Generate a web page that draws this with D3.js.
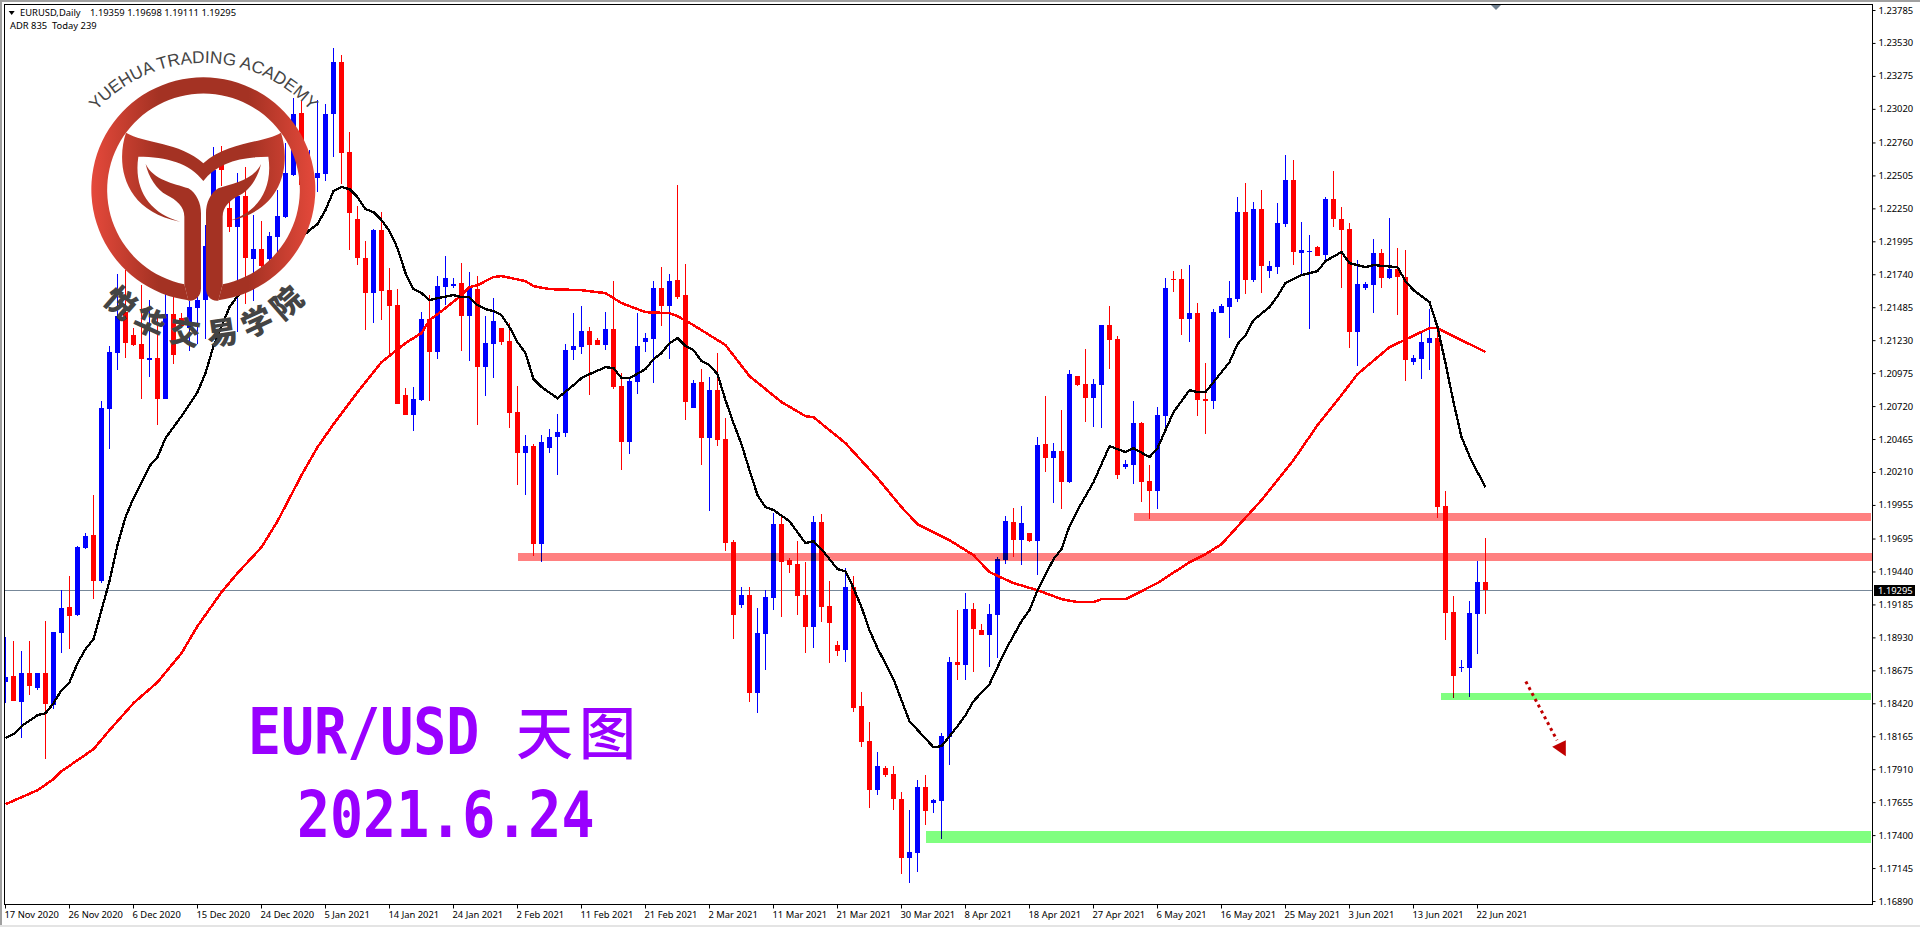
<!DOCTYPE html>
<html><head><meta charset="utf-8">
<script src="https://cdnjs.cloudflare.com/ajax/libs/d3/7.8.5/d3.min.js"></script>
<style>html,body{margin:0;padding:0;background:#fff;overflow:hidden}svg{display:block}</style>
</head><body><svg id="c" width="1920" height="927"></svg>
<script>
const opens=[1.18583,1.18630,1.18429,1.18653,1.18537,1.18653,1.18405,1.18963,1.19164,1.19102,
1.19620,1.19721,1.19365,1.20696,1.21130,1.21447,1.21269,1.21199,1.21076,1.21091,
1.20774,1.21432,1.21401,1.21323,1.21478,1.21540,1.22043,1.22585,1.22252,1.22105,
1.22345,1.21857,1.21935,1.21857,1.22028,1.22182,1.22507,1.22987,1.22314,1.22484,
1.22515,1.22980,1.23382,1.22686,1.22167,1.21865,1.21594,1.22082,1.21617,1.21501,
1.20805,1.20650,1.20766,1.21393,1.21138,1.21641,1.21648,1.21672,1.21416,1.21625,
1.21021,1.21199,1.21323,1.21223,1.20673,1.20356,1.20410,1.19651,1.20394,1.20480,
1.20511,1.21153,1.21176,1.21300,1.21230,1.21192,1.21316,1.20874,1.20441,1.20905,
1.21215,1.21238,1.21633,1.21494,1.21695,1.21579,1.20704,1.20905,1.20472,1.20843,
1.20464,1.19667,1.19179,1.19257,1.18498,1.18955,1.19233,1.19806,1.19528,1.19497,
1.19257,1.19009,1.19822,1.19172,1.18870,1.18831,1.19319,1.18398,1.18127,1.17747,
1.17918,1.17871,1.17678,1.17221,1.17260,1.17771,1.17647,1.17662,1.18158,1.18738,
1.18715,1.19148,1.18986,1.18947,1.19102,1.19528,1.19822,1.19682,1.19737,1.19675,
1.20425,1.20317,1.20371,1.20131,1.20952,1.20890,1.20781,1.20882,1.21346,1.21238,
1.20247,1.20263,1.20588,1.20139,1.20062,1.20642,1.21703,1.21703,1.21393,1.21439,
1.20774,1.20758,1.21439,1.21486,1.21548,1.22221,1.21695,1.22244,1.21764,1.21795,
1.22128,1.22469,1.21904,1.21912,1.21950,1.21888,1.22322,1.22167,1.22090,1.21292,
1.21633,1.21656,1.21904,1.21710,1.21780,1.21718,1.21060,1.21083,1.21207,1.21246,
1.19946,1.19125,1.18692,1.18692,1.19110,1.19359];
const highs=[1.18932,1.18901,1.18823,1.18901,1.18653,1.19055,1.18970,1.19295,1.19404,1.19636,
1.19737,1.20031,1.20758,1.21184,1.21741,1.21772,1.21323,1.21656,1.21540,1.21463,
1.21617,1.21571,1.21439,1.21532,1.21571,1.22120,1.22724,1.22732,1.22314,1.22523,
1.22569,1.22198,1.22151,1.22066,1.22391,1.22755,1.23103,1.23088,1.22701,1.23088,
1.23057,1.23490,1.23436,1.22840,1.22268,1.21997,1.22090,1.22221,1.21788,1.21625,
1.20859,1.20867,1.21447,1.21579,1.21726,1.21881,1.21710,1.21826,1.21757,1.21726,
1.21416,1.21555,1.21323,1.21362,1.20874,1.20495,1.20425,1.20495,1.20542,1.20658,
1.21199,1.21439,1.21494,1.21331,1.21246,1.21447,1.21687,1.20975,1.20944,1.21439,
1.21285,1.21687,1.21795,1.21741,1.22430,1.21819,1.20921,1.21006,1.20944,1.21130,
1.20627,1.19682,1.19319,1.19319,1.19156,1.19295,1.19891,1.19868,1.19543,1.19675,
1.19512,1.19868,1.19884,1.19365,1.18901,1.19466,1.19404,1.18506,1.18274,1.18042,
1.17933,1.17933,1.17732,1.17593,1.17825,1.17863,1.17678,1.18189,1.18777,1.19141,
1.19272,1.19195,1.19032,1.19187,1.19551,1.19868,1.19930,1.19946,1.19737,1.20480,
1.20797,1.20433,1.20689,1.20998,1.20952,1.21161,1.20929,1.21346,1.21494,1.21261,
1.20302,1.20758,1.20596,1.20263,1.20712,1.21710,1.21764,1.21780,1.21811,1.21517,
1.21052,1.21470,1.21509,1.21687,1.22337,1.22446,1.22299,1.22391,1.21842,1.22291,
1.22662,1.22624,1.22144,1.22043,1.21958,1.22337,1.22538,1.22260,1.22136,1.21850,
1.21679,1.22012,1.21935,1.22175,1.21942,1.21927,1.21114,1.21292,1.21470,1.21346,
1.20062,1.19249,1.18754,1.19210,1.19520,1.19698];
const lows=[1.18421,1.18436,1.18150,1.18483,1.18521,1.17987,1.18374,1.18808,1.18839,1.19094,
1.19613,1.19226,1.19350,1.20387,1.20998,1.21091,1.21184,1.20774,1.20944,1.20572,
1.20774,1.21045,1.21323,1.21145,1.21199,1.21238,1.21888,1.22422,1.22066,1.21292,
1.21509,1.21532,1.21788,1.21834,1.21881,1.22175,1.22500,1.22159,1.22159,1.22376,
1.22461,1.22647,1.22438,1.21927,1.21811,1.21308,1.21362,1.21385,1.21114,1.20735,
1.20650,1.20526,1.20758,1.20758,1.21083,1.21501,1.21633,1.21145,1.21068,1.20572,
1.20797,1.20936,1.21192,1.20549,1.20108,1.20031,1.19559,1.19512,1.20356,1.20185,
1.20480,1.21076,1.21122,1.20805,1.21192,1.21153,1.20851,1.20224,1.20348,1.20812,
1.21138,1.20898,1.21339,1.21083,1.21548,1.20611,1.20704,1.20263,1.19907,1.20410,
1.19597,1.18916,1.19156,1.18429,1.18343,1.18676,1.19141,1.19086,1.19427,1.19102,
1.18808,1.18846,1.19048,1.18730,1.18785,1.18738,1.18351,1.18080,1.17608,1.17709,
1.17848,1.17593,1.17097,1.17028,1.17113,1.17476,1.17569,1.17368,1.17941,1.18599,
1.18599,1.18661,1.18947,1.18699,1.18769,1.19497,1.19551,1.19489,1.19667,1.19411,
1.20209,1.19969,1.19922,1.20124,1.20874,1.20596,1.20557,1.20549,1.21006,1.20155,
1.20232,1.20116,1.19977,1.19845,1.19922,1.20511,1.21602,1.21269,1.21215,1.20642,
1.20503,1.20696,1.21439,1.21246,1.21525,1.21586,1.21679,1.21594,1.21710,1.21741,
1.22105,1.21811,1.21733,1.21316,1.21881,1.21826,1.22105,1.21633,1.21168,1.21029,
1.21617,1.21439,1.21633,1.21703,1.21424,1.20913,1.21037,1.20929,1.20998,1.19853,
1.18908,1.18459,1.18661,1.18467,1.18800,1.19111];
const closes=[1.18622,1.18436,1.18653,1.18552,1.18653,1.18413,1.18970,1.19156,1.19094,1.19628,
1.19713,1.19365,1.20704,1.21138,1.21416,1.21207,1.21192,1.21083,1.21091,1.20774,
1.21432,1.21114,1.21339,1.21486,1.21540,1.21958,1.22546,1.22546,1.22105,1.22345,
1.21865,1.21935,1.21803,1.22035,1.22190,1.22523,1.22980,1.22430,1.22507,1.22523,
1.22980,1.23382,1.22678,1.22213,1.21865,1.21594,1.22082,1.21610,1.21494,1.20735,
1.20650,1.20774,1.21393,1.21138,1.21648,1.21710,1.21664,1.21416,1.21633,1.21021,
1.21207,1.21377,1.21215,1.20665,1.20356,1.20410,1.19651,1.20441,1.20480,1.20518,
1.21153,1.21184,1.21300,1.21192,1.21192,1.21316,1.20867,1.20441,1.20913,1.21184,
1.21246,1.21633,1.21494,1.21687,1.21563,1.20751,1.20898,1.20472,1.20843,1.20456,
1.19659,1.19102,1.19257,1.18498,1.18963,1.19241,1.19806,1.19512,1.19489,1.19249,
1.19009,1.19822,1.19164,1.19040,1.18823,1.19319,1.18382,1.18119,1.17747,1.17933,
1.17863,1.17678,1.17221,1.17268,1.17771,1.17585,1.17670,1.18165,1.18738,1.18715,
1.19148,1.18994,1.18947,1.19110,1.19535,1.19829,1.19682,1.19814,1.19675,1.20418,
1.20317,1.20371,1.20131,1.20967,1.20882,1.20781,1.20890,1.21346,1.21230,1.20185,
1.20271,1.20588,1.20131,1.20062,1.20650,1.21633,1.21695,1.21393,1.21439,1.20766,
1.20758,1.21447,1.21494,1.21555,1.22221,1.21695,1.22244,1.21803,1.21803,1.22136,
1.22469,1.21912,1.21927,1.21919,1.21881,1.22322,1.22167,1.22082,1.21292,1.21664,
1.21664,1.21904,1.21710,1.21780,1.21718,1.21076,1.21091,1.21215,1.21246,1.19938,
1.19117,1.18630,1.18699,1.19117,1.19357,1.19295];

const fastBars=[0,1,2,4,5,6,7,8,9,10,11,12,13,14,15,16,18,19,20,22,24,25,26,28,29,31,33,36,38,39,40,41,42,43,44,45,46,47,48,49,50,51,52,53,54,56,57,58,59,60,61,62,63,64,65,66,67,69,71,72,73,75,76,77,78,80,81,82,83,84,85,86,87,88,89,90,91,92,93,94,95,96,98,100,101,102,104,105,106,107,108,109,111,113,116,117,118,119,120,121,123,125,127,128,129,131,132,133,134,136,138,140,141,143,144,145,146,148,149,150,153,154,155,156,158,159,160,162,164,165,167,168,170,171,174,175,176,178,179,180,181,182,183,184,185];
const fastVals=[1.18150,1.18181,1.18243,1.18328,1.18343,1.18421,1.18521,1.18583,1.18730,1.18839,1.18916,1.19141,1.19365,1.19644,1.19860,1.20007,1.20255,1.20325,1.20472,1.20642,1.20828,1.20975,1.21184,1.21486,1.21571,1.21672,1.21811,1.21966,1.22082,1.22128,1.22237,1.22384,1.22415,1.22399,1.22337,1.22244,1.22221,1.22159,1.22074,1.21942,1.21749,1.21625,1.21594,1.21540,1.21555,1.21579,1.21563,1.21563,1.21501,1.21470,1.21455,1.21424,1.21331,1.21215,1.21130,1.20929,1.20867,1.20781,1.20882,1.20936,1.20967,1.21021,1.21014,1.20936,1.20936,1.21006,1.21083,1.21130,1.21207,1.21246,1.21184,1.21153,1.21068,1.21037,1.20967,1.20766,1.20588,1.20425,1.20224,1.20031,1.19938,1.19915,1.19829,1.19659,1.19675,1.19613,1.19458,1.19442,1.19311,1.19164,1.18986,1.18846,1.18607,1.18281,1.18080,1.18088,1.18165,1.18243,1.18328,1.18436,1.18568,1.18831,1.19055,1.19141,1.19295,1.19535,1.19613,1.19791,1.19915,1.20131,1.20410,1.20364,1.20394,1.20325,1.20394,1.20534,1.20673,1.20843,1.20828,1.20828,1.21060,1.21199,1.21269,1.21385,1.21486,1.21571,1.21672,1.21733,1.21764,1.21842,1.21912,1.21826,1.21795,1.21811,1.21795,1.21687,1.21617,1.21525,1.21331,1.21052,1.20751,1.20480,1.20333,1.20209,1.20093];
const slowBars=[0,2,4,6,7,11,13,16,19,22,24,27,29,32,34,37,39,41,44,47,50,52,53,55,57,58,59,61,62,65,66,68,72,75,77,80,83,84,86,88,90,93,97,100,101,105,109,112,114,118,120,121,123,126,129,132,134,136,137,140,144,148,150,152,157,161,164,167,169,173,178,179,181,185];
const slowVals=[1.17639,1.17693,1.17747,1.17833,1.17894,1.18065,1.18212,1.18421,1.18583,1.18808,1.19017,1.19280,1.19427,1.19628,1.19829,1.20185,1.20402,1.20580,1.20828,1.21060,1.21207,1.21285,1.21385,1.21478,1.21579,1.21641,1.21656,1.21718,1.21726,1.21687,1.21648,1.21625,1.21617,1.21594,1.21517,1.21447,1.21439,1.21416,1.21346,1.21269,1.21192,1.20952,1.20751,1.20642,1.20634,1.20433,1.20162,1.19938,1.19806,1.19682,1.19605,1.19566,1.19435,1.19350,1.19295,1.19226,1.19203,1.19203,1.19226,1.19226,1.19350,1.19512,1.19574,1.19651,1.19992,1.20302,1.20572,1.20805,1.20967,1.21176,1.21323,1.21323,1.21261,1.21138];

const priceTicks=[1.23785,1.23530,1.23275,1.23020,1.22760,1.22505,1.22250,1.21995,1.21740,1.21485,1.21230,1.20975,1.20720,1.20465,1.20210,1.19955,1.19695,1.19440,1.19185,1.18930,1.18675,1.18420,1.18165,1.17910,1.17655,1.17400,1.17145,1.16890];
const dateLabels=["17 Nov 2020","26 Nov 2020","6 Dec 2020","15 Dec 2020","24 Dec 2020","5 Jan 2021","14 Jan 2021","24 Jan 2021","2 Feb 2021","11 Feb 2021","21 Feb 2021","2 Mar 2021","11 Mar 2021","21 Mar 2021","30 Mar 2021","8 Apr 2021","18 Apr 2021","27 Apr 2021","6 May 2021","16 May 2021","25 May 2021","3 Jun 2021","13 Jun 2021","22 Jun 2021"];
const lastPrice=1.19295;
const resistStart=[141.1,64.1], resistEnd=[233.3,233.5], resistHigh=[1.19891,1.19582], resistLow=[1.19832,1.19520];
const supportStart=[179.5,115.1], supportEnd=[233.2,233.2], supportHigh=[1.18498,1.17430], supportLow=[1.18444,1.17337];
const arrowBars=[190.1,194.0], arrowPrices=[1.18589,1.18134];
const arrowHeadBars=[193.4,195.1,195.1], arrowHeadPrices=[1.18083,1.18134,1.18011];
const headerSymbol="EURUSD,Daily", headerOHLC="1.19359 1.19698 1.19111 1.19295", headerADR="ADR 835  Today 239";
const logoEn="YUEHUA TRADING ACADEMY", logoCn=["悦","华","交","易","学","院"], logoCnAngles=[41,25,8.5,-8.5,-25,-41];
const titleLatin="EUR/USD", titleCn="天图", titleDate="2021.6.24";

const svg=d3.select("#c");
const W=1920,H=927,L=5,T=5,R=1872,B=904;
const x=d3.scaleLinear().domain([0,185]).range([5,1485]);
const y=d3.scaleLinear().domain([1.23785,1.16890]).range([10,901]);
const UI='"Noto Sans",Tahoma,sans-serif';

const defs=svg.append("defs");
defs.append("clipPath").attr("id","plot").append("rect").attr("x",L).attr("y",T).attr("width",R-L).attr("height",B-T);
const grad=defs.append("linearGradient").attr("id","lg").attr("gradientUnits","userSpaceOnUse")
 .attr("x1",273).attr("x2",947).attr("y1",0).attr("y2",0);
[[0,"#e5493b"],[0.3,"#a43223"],[0.7,"#a43223"],[1,"#e5493b"]].forEach(s=>grad.append("stop").attr("offset",s[0]).attr("stop-color",s[1]));

// window chrome
svg.append("rect").attr("width",W).attr("height",H).attr("fill","#fff");
svg.append("rect").attr("width",W).attr("height",2).attr("fill","#a0a0a0");
svg.append("rect").attr("width",2).attr("height",H).attr("fill","#a0a0a0");
svg.append("rect").attr("y",925).attr("width",W).attr("height",2).attr("fill","#e4e4e4");

const plot=svg.append("g").attr("clip-path","url(#plot)");
plot.append("line").attr("x1",L).attr("x2",R).attr("y1",Math.round(y(lastPrice))+.5).attr("y2",Math.round(y(lastPrice))+.5)
 .attr("stroke","#778899").attr("stroke-width",1);

// candles
const idx=d3.range(opens.length);
const up=i=>closes[i]>=opens[i];
const col=i=>up(i)?"#0000ff":"#ff0000";
const cg=plot.append("g").attr("shape-rendering","crispEdges");
cg.selectAll("rect.w").data(idx).join("rect").attr("class","w")
 .attr("x",i=>Math.round(x(i))).attr("width",1)
 .attr("y",i=>Math.round(y(highs[i]))).attr("height",i=>Math.max(1,Math.round(y(lows[i]))-Math.round(y(highs[i]))))
 .attr("fill",col);
cg.selectAll("rect.b").data(idx).join("rect").attr("class","b")
 .attr("x",i=>Math.round(x(i))-2).attr("width",5)
 .attr("y",i=>Math.round(y(Math.max(opens[i],closes[i]))))
 .attr("height",i=>Math.max(1,Math.round(y(Math.min(opens[i],closes[i])))-Math.round(y(Math.max(opens[i],closes[i])))))
 .attr("fill",col);

// moving averages
const maLine=d3.line().x(d=>x(d[0])+.5).y(d=>y(d[1]));
plot.append("path").attr("d",maLine(slowBars.map((b,i)=>[b,slowVals[i]]))).attr("fill","none").attr("stroke","#ff0000").attr("stroke-width",2.5).attr("shape-rendering","crispEdges");
plot.append("path").attr("d",maLine(fastBars.map((b,i)=>[b,fastVals[i]]))).attr("fill","none").attr("stroke","#000").attr("stroke-width",2.3).attr("shape-rendering","crispEdges");

// zones
const zones=plot.append("g").attr("shape-rendering","crispEdges").style("mix-blend-mode","multiply");
resistStart.forEach((s,i)=>zones.append("rect").attr("x",x(s)).attr("width",x(resistEnd[i])-x(s))
 .attr("y",y(resistHigh[i])).attr("height",y(resistLow[i])-y(resistHigh[i])).attr("fill","#ff8080"));
supportStart.forEach((s,i)=>zones.append("rect").attr("x",x(s)).attr("width",x(supportEnd[i])-x(s))
 .attr("y",y(supportHigh[i])).attr("height",y(supportLow[i])-y(supportHigh[i])).attr("fill","#80ff80"));

// arrow
plot.append("line").attr("x1",x(arrowBars[0])).attr("y1",y(arrowPrices[0])).attr("x2",x(arrowBars[1])).attr("y2",y(arrowPrices[1]))
 .attr("stroke","#c00000").attr("stroke-width",3).attr("stroke-dasharray","3 3.6");
plot.append("polygon").attr("points",arrowHeadBars.map((b,i)=>x(b)+","+y(arrowHeadPrices[i])).join(" ")).attr("fill","#c00000");

// logo
const logo=svg.append("g");
const lg=logo.append("g").attr("transform","scale("+1/3+")").attr("fill","url(#lg)");
[
"M565,901 A336,336 0 1 1 655,901 L668,853 A289,289 0 1 0 553,853 Z",
"M378,398 C430,430 540,425 610,490 C680,425 790,430 843,398 C870,480 860,630 685,663 C770,640 820,570 805,470 C720,470 650,490 610,543 C570,490 500,470 415,470 C400,570 450,640 540,665 C360,630 350,480 378,398 Z",
"M437,492 C460,540 520,550 565,565 C590,580 603,610 603,640 L603,865 C603,890 585,905 565,902 L553,853 L553,650 C553,620 530,600 500,585 C470,570 445,530 437,492 Z",
"M783,492 C760,540 700,550 655,565 C630,580 618,610 618,640 L618,865 C618,890 635,905 655,902 L668,853 L668,650 C668,620 690,600 720,585 C750,570 775,530 783,492 Z"
].forEach(d=>lg.append("path").attr("d",d));
const cx=203.5,cy=207,rT=144;
const a0=-50*Math.PI/180,a1=50*Math.PI/180;
defs.append("path").attr("id","arcT").attr("d",
 `M${cx+rT*Math.sin(a0)},${cy-rT*Math.cos(a0)} A${rT},${rT} 0 0 1 ${cx+rT*Math.sin(a1)},${cy-rT*Math.cos(a1)}`);
logo.append("text").attr("font-family",'"Liberation Sans",Arial,sans-serif').attr("font-size",17.2).attr("fill","#454545")
 .append("textPath").attr("href","#arcT").attr("startOffset","50%").attr("text-anchor","middle").text(logoEn);
logoCn.forEach((c,i)=>{
 const a=logoCnAngles[i],r=127,rad=a*Math.PI/180;
 logo.append("text").attr("transform",`translate(${cx-r*Math.sin(rad)},${207+r*Math.cos(rad)}) rotate(${a})`)
  .attr("text-anchor","middle").attr("dy","0.36em").attr("font-family",'"Noto Sans CJK SC"').attr("font-weight",900)
  .attr("font-size",31).attr("fill","#444").text(c);
});

// titles
const titleFont='"DejaVu Sans Mono","Liberation Mono",monospace';
svg.append("text").attr("transform","translate(248,753.5) scale(0.915,1.08)").attr("font-family",titleFont).attr("font-weight",700).attr("font-size",60).attr("fill","#9900ff").text(titleLatin);
svg.append("text").attr("x",516).attr("y",754).attr("font-family",'"Noto Sans CJK SC"').attr("font-weight",500).attr("font-size",57).attr("fill","#9900ff").attr("letter-spacing",6).text(titleCn);
svg.append("text").attr("transform","translate(297,836.5) scale(0.915,1.08)").attr("font-family",titleFont).attr("font-weight",700).attr("font-size",60).attr("fill","#9900ff").text(titleDate);

// frame & axes
svg.append("rect").attr("x",4.5).attr("y",4.5).attr("width",R-4).attr("height",B-4).attr("fill","none").attr("stroke","#000").attr("shape-rendering","crispEdges");
const ya=svg.append("g").attr("transform",`translate(${R+.5},0)`).call(d3.axisRight(y).tickValues(priceTicks).tickFormat(d3.format(".5f")).tickSize(3).tickPadding(3));
ya.select(".domain").remove();
ya.selectAll("text").attr("font-family",UI).attr("font-size",9.4).attr("fill","#000");
const xa=svg.append("g").attr("transform",`translate(0,${B+.5})`).call(d3.axisBottom(x).tickValues(d3.range(0,dateLabels.length).map(k=>k*8)).tickFormat(i=>dateLabels[i/8]).tickSize(4).tickPadding(3));
xa.select(".domain").remove();
xa.selectAll("text").attr("font-family",UI).attr("font-size",9.4).attr("fill","#000").attr("text-anchor","start").attr("dx",-1);

// price tag
svg.append("rect").attr("x",R+2).attr("y",585).attr("width",41).attr("height",11).attr("fill","#000");
svg.append("text").attr("x",R+6).attr("y",y(lastPrice)).attr("dy","0.36em").attr("font-family",UI).attr("font-size",9.4).attr("fill","#fff").text(d3.format(".5f")(lastPrice));

// header
svg.append("polygon").attr("points","8.7,11 14.7,11 11.7,15").attr("fill","#000");
svg.append("text").attr("x",20).attr("y",16).attr("font-family",UI).attr("font-size",9.4).attr("fill","#000").text(headerSymbol);
svg.append("text").attr("x",90).attr("y",16).attr("font-family",UI).attr("font-size",9.4).attr("fill","#000").text(headerOHLC);
svg.append("text").attr("x",10).attr("y",29).attr("font-family",UI).attr("font-size",9.4).attr("fill","#000").attr("xml:space","preserve").style("white-space","pre").text(headerADR);
// chart-shift marker
svg.append("polygon").attr("points","1491,5 1501,5 1496,10").attr("fill","#708090");
</script></body></html>
